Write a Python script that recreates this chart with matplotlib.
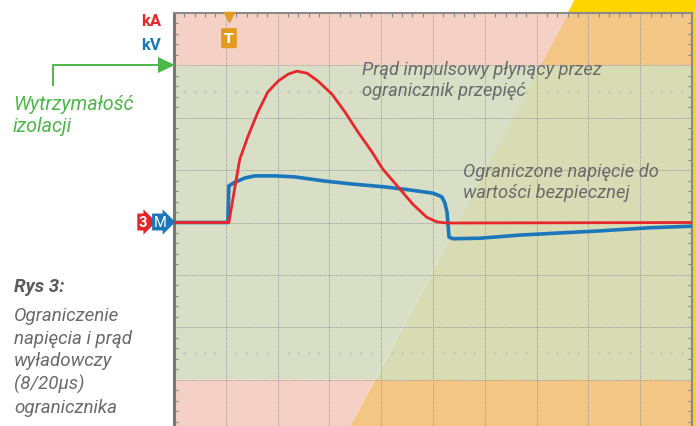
import matplotlib.pyplot as plt
from matplotlib.patches import Polygon
from matplotlib.lines import Line2D

# oscyloskop: czas w działkach (10 dz.), amplituda w działkach (+/-4 dz.)
prad_t = [0, 1.06, 1.12, 1.18, 1.27, 1.43, 1.62, 1.81, 2.01, 2.20, 2.37, 2.57, 2.78,
          3.05, 3.30, 3.55, 3.82, 4.03, 4.36, 4.61, 4.88, 5.08, 5.27, 10]
prad_kA = [0, 0, 0.35, 0.70, 1.21, 1.65, 2.11, 2.49, 2.70, 2.83, 2.89, 2.85, 2.70,
           2.45, 2.11, 1.73, 1.35, 1.02, 0.64, 0.35, 0.10, 0.01, -0.01, 0]

nap_t = [0, 1.04, 1.06, 1.18, 1.37, 1.56, 1.95, 2.34, 2.92, 3.49, 4.07, 4.56, 5.00,
         5.10, 5.17, 5.23, 5.27, 5.29, 5.31, 5.39, 5.91, 6.68, 7.45, 8.22, 9.19, 10]
nap_kV = [0, 0, 0.70, 0.77, 0.85, 0.89, 0.89, 0.87, 0.79, 0.73, 0.68, 0.62, 0.56,
          0.52, 0.49, 0.37, 0.20, -0.03, -0.28, -0.31, -0.30, -0.24, -0.20, -0.16, -0.10, -0.07]

wytrzymalosc = 3.0      # poziom wytrzymałości izolacji
trigger_t = 1.06

W, H = 696, 427
fig = plt.figure(figsize=(W / 100, H / 100), dpi=100)
fig.patch.set_facecolor('white')

def px(x, y):
    return x / W, 1 - y / H

# żółty pas w tle
fig.add_artist(Polygon([px(575, 0), px(W, 0), px(W, H), px(347, H)],
                       closed=True, transform=fig.transFigure, fc='#FFD600', ec='none', zorder=0))

ax = fig.add_axes([174 / W, 1 - 433 / H, 518 / W, 419 / H])
ax.set_xlim(0, 10)
ax.set_ylim(-4, 4)

# strefy tła (lewa/prawa część rozdzielona ukośnie)
d_top, d_bot = 7.63, 3.34
def diag(y):
    return d_bot + (d_top - d_bot) * (y + 4) / 8

for y0, y1, cl, cr in [(wytrzymalosc, 4, '#F4D1C4', '#F3C686'),
                       (-wytrzymalosc, wytrzymalosc, '#D8DFC6', '#D7DCB4'),
                       (-4, -wytrzymalosc, '#F4D1C4', '#F3C686')]:
    ax.add_patch(Polygon([(0, y0), (diag(y0), y0), (diag(y1), y1), (0, y1)], fc=cl, ec='none', zorder=0))
    ax.add_patch(Polygon([(diag(y0), y0), (10, y0), (10, y1), (diag(y1), y1)], fc=cr, ec='none', zorder=0))

# siatka
for i in range(1, 10):
    ax.axvline(i, color='#9a9a9a', lw=0.7, ls=(0, (1, 1)), zorder=1)
for j in range(-3, 4):
    ax.axhline(j, color='#9a9a9a', lw=0.7, ls=(0, (1, 1)), zorder=1)
dots_x = [i / 5 for i in range(1, 50) if i % 5]
for yy in (2.5, -2.5):
    ax.plot(dots_x, [yy] * len(dots_x), ls='none', marker='.', ms=0.8, color='#b4b4b4', zorder=1)

ax.set_xticks(range(11))
ax.set_yticks(range(-4, 5))
ax.set_xticks([i / 5 for i in range(51)], minor=True)
ax.set_yticks([j / 5 for j in range(-20, 21)], minor=True)
ax.tick_params(which='both', direction='in', top=True, right=True,
               labelleft=False, labelbottom=False, color='#888888')
ax.tick_params(which='major', length=0)
ax.tick_params(which='minor', length=3, width=0.8)
for s in ax.spines.values():
    s.set_color('#8a8a8a')
    s.set_linewidth(1.5)
ax.spines['left'].set_linewidth(2.2)
ax.spines['left'].set_color('#777777')

# przebiegi
ax.plot(nap_t, nap_kV, color='#1B76BC', lw=2.6, zorder=4, solid_joinstyle='round')
ax.plot(prad_t, prad_kA, color='#E8272B', lw=2.0, zorder=5, solid_joinstyle='round')

# znacznik wyzwalania
ax.plot([trigger_t], [3.92], marker='v', ms=7, color='#E49A1E', clip_on=False, zorder=6)
ax.text(trigger_t, 3.52, 'T', ha='center', va='center', color='white', fontsize=10, fontweight='bold',
        zorder=6, bbox=dict(boxstyle='round,pad=0.22,rounding_size=0.1', fc='#E49A1E', ec='none'))

fnt = dict(family='Roboto', style='italic')
ax.text(3.63, 2.73, 'Prąd impulsowy płynący przez\nogranicznik przepięć', color='#6A6A6A',
        fontsize=13.2, linespacing=1.2, va='center', ha='left', zorder=6, **fnt)
ax.text(5.58, 0.78, 'Ograniczone napięcie do\nwartości bezpiecznej', color='#6A6A6A',
        fontsize=13.2, linespacing=1.2, va='center', ha='left', zorder=6, **fnt)

# opisy poza wykresem
fig.text(*px(161, 22), 'kA', color='#E8272B', fontsize=12, fontweight='bold', ha='right', va='center', family='Roboto')
fig.text(*px(161, 45), 'kV', color='#1B76BC', fontsize=12, fontweight='bold', ha='right', va='center', family='Roboto')

fig.text(*px(143, 223), '3', color='white', fontsize=10.5, fontweight='bold', ha='center', va='center',
         family='Roboto', bbox=dict(boxstyle='rarrow,pad=0.1', fc='#E4262A', ec='none'))
fig.text(*px(160, 223), 'M', color='white', fontsize=10.5, ha='center', va='center',
         family='Roboto', bbox=dict(boxstyle='rarrow,pad=0.1', fc='#1B76BC', ec='none'))

green = '#4DB84A'
fig.add_artist(Line2D([53 / W, 53 / W, 160 / W], [1 - 86 / H, 1 - 66 / H, 1 - 66 / H],
                      transform=fig.transFigure, color=green, lw=1.4))
fig.add_artist(Polygon([px(158, 58), px(158, 74), px(175, 66)], closed=True,
                       transform=fig.transFigure, fc=green, ec='none'))
fig.text(*px(13, 115), 'Wytrzymałość\nizolacji', color=green, fontsize=14.2, linespacing=1.2,
         ha='left', va='center', **fnt)

fig.text(*px(14, 287), 'Rys 3:', color='#5A5A5A', fontsize=13.5, fontweight='bold', style='italic',
         ha='left', va='center', family='Roboto')
fig.text(*px(14, 362), 'Ograniczenie\nnapięcia i prąd\nwyładowczy\n(8/20µs)\nogranicznika',
         color='#6A6A6A', fontsize=13.5, linespacing=1.33, ha='left', va='center', **fnt)

fig.savefig('out.png', dpi=100)
